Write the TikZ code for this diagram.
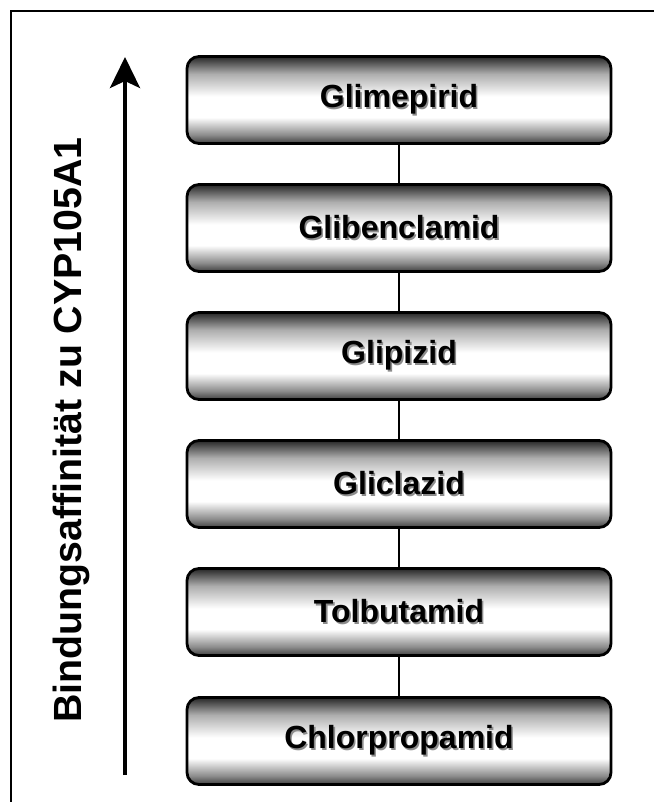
\documentclass[tikz,border=0pt]{standalone}
\usepackage{fontspec}
\setmainfont{Liberation Sans}
\usetikzlibrary{arrows.meta}

% metallic vertical gradient for the boxes (path spans 25bp..75bp)
\pgfdeclareverticalshading{boxshade}{100bp}{%
  color(0bp)=(black!75); color(25bp)=(black!75); color(30bp)=(black!45);
  color(40bp)=(white); color(52bp)=(white); color(65bp)=(black!32);
  color(75bp)=(black!85); color(100bp)=(black!85)}

% label with a soft grey drop shadow
\newcommand\shadowlabel[1]{%
  \makebox[0pt][l]{\hspace{1.6pt}\raisebox{-1.6pt}{\color{black!45}#1}}#1}

\tikzset{
  drugbox/.style={draw=black, line width=2.8pt, rounded corners=12pt,
    shading=boxshade, minimum width=424pt, minimum height=87pt,
    inner sep=0pt, font=\fontsize{32}{37}\selectfont\bfseries},
  link/.style={line width=2.8pt},
}

\begin{document}
\begin{tikzpicture}[x=1pt, y=-1pt]
\useasboundingbox[fill=white] (0,0) rectangle (654,802);

% frame edges
\draw[line width=2pt] (10,11) -- (654,11);
\draw[line width=2pt] (11,11) -- (11,802);

% ranking boxes
\node[drugbox] (b1) at (399,100)   {\shadowlabel{Glimepirid}};
\node[drugbox] (b2) at (399,228)   {\shadowlabel{Glibenclamid}};
\node[drugbox] (b3) at (399,356)   {\shadowlabel{Glipizid}};
\node[drugbox] (b4) at (399,484)   {\shadowlabel{Gliclazid}};
\node[drugbox] (b5) at (399,612)   {\shadowlabel{Tolbutamid}};
\node[drugbox] (b6) at (399,741)   {\shadowlabel{Chlorpropamid}};

% connectors between neighbouring boxes
\draw[link] (b1) -- (b2);
\draw[link] (b2) -- (b3);
\draw[link] (b3) -- (b4);
\draw[link] (b4) -- (b5);
\draw[link] (b5) -- (b6);

% affinity axis
\coordinate (axlow) at (125,775);
\coordinate (axtop) at (125,57);
\draw[line width=4pt, -{Stealth[length=31pt, width=30pt, inset=7pt]}] (axlow) -- (axtop);
\node[rotate=90, font=\fontsize{39.3}{44}\selectfont\bfseries] (axlabel) at (71,430)
  {Bindungsaffinität zu CYP105A1};
\end{tikzpicture}
\end{document}
